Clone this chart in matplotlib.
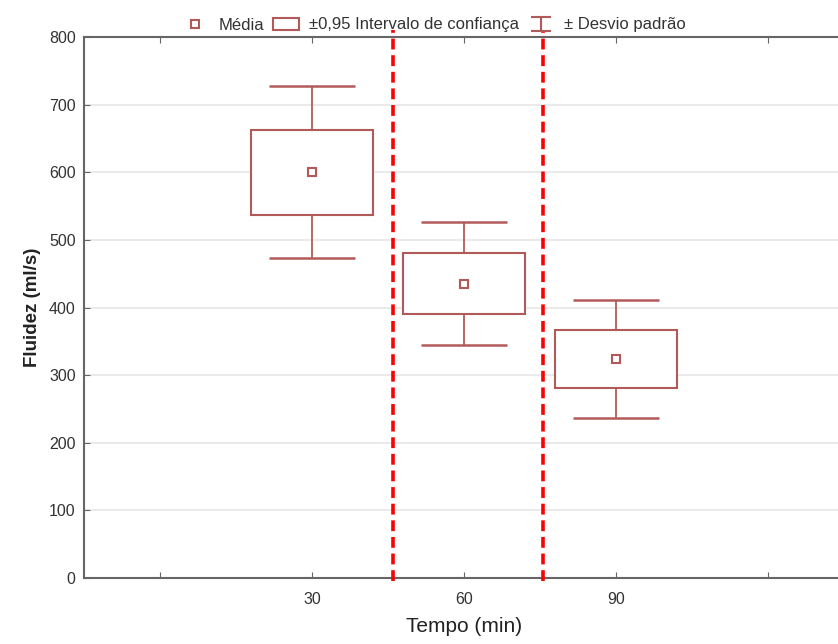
import matplotlib
matplotlib.use("Agg")
import matplotlib.pyplot as plt
from matplotlib.path import Path
from matplotlib.lines import Line2D

plt.rcParams['font.family'] = ['Liberation Sans', 'DejaVu Sans']

# categorias do eixo x (posições 0..4, só 1..3 têm dados)
tick_labels = ['', '30', '60', '90', '']
pos = [1, 2, 3]
media = [600, 435, 324]
ic95 = [63, 45, 43]      # ±0,95 intervalo de confiança
desvio = [127, 91, 87]   # ± desvio padrão
cortes = [1.53, 2.52]    # linhas vermelhas tracejadas

cor = '#b25a5a'

fig = plt.figure(figsize=(8.38, 6.44), dpi=100)
ax = fig.add_axes([84 / 838, 66 / 644, 760 / 838, 541 / 644])

ax.set_xlim(-0.5, 4.5)
ax.set_ylim(0, 800)
ax.set_yticks(range(0, 801, 100))
ax.set_xticks(range(5))
ax.set_xticklabels(tick_labels)
ax.yaxis.grid(True, color='#e6e6e6', lw=1.2)
ax.set_axisbelow(True)

ax.errorbar(pos, media, yerr=desvio, fmt='none', ecolor=cor, elinewidth=1.3,
            capsize=31, capthick=1.8, zorder=2)
bx = ax.bar(pos, [2 * c for c in ic95], bottom=[m - c for m, c in zip(media, ic95)],
            width=0.8, facecolor='white', edgecolor=cor, lw=1.5, zorder=3)
mk, = ax.plot(pos, media, 's', ms=6, mfc='white', mec=cor, mew=1.5, ls='none', zorder=4)

for c in cortes:
    ax.axvline(c, ymin=-0.006, ymax=1.013, color='#ff0000', lw=2.6, ls=(0, (3, 1.6)),
               clip_on=False, zorder=5)

for s in ax.spines.values():
    s.set_color('#666666')
    s.set_linewidth(1.5)
ax.tick_params(direction='in', top=True, length=4, color='#666666', labelsize=11.5,
               labelcolor='#333333', pad=6)
ax.tick_params(axis='x', pad=10)

ax.set_ylabel('Fluidez (ml/s)', fontsize=13.5, fontweight='bold', color='#222222', labelpad=6)
ax.set_xlabel('Tempo (min)', fontsize=15, color='#222222', labelpad=7)

# símbolo "I" para o desvio padrão na legenda
marca_i = Path([(-1, 0.7), (1, 0.7), (0, 0.7), (0, -0.7), (-1, -0.7), (1, -0.7)],
               [Path.MOVETO, Path.LINETO, Path.MOVETO, Path.LINETO, Path.MOVETO, Path.LINETO])
eb = Line2D([], [], marker=marca_i, ms=15, mfc='none', mec=cor, mew=1.5, ls='none')

fig.legend([mk, bx, eb], ['Média', '±0,95 Intervalo de confiança', '± Desvio padrão'],
           loc='center', bbox_to_anchor=(434 / 838, 1 - 25 / 644), ncol=3, frameon=False,
           fontsize=12, handlelength=1.6, columnspacing=0.5, handletextpad=0.6,
           labelcolor='#333333')

fig.savefig('out.png', dpi=100)
